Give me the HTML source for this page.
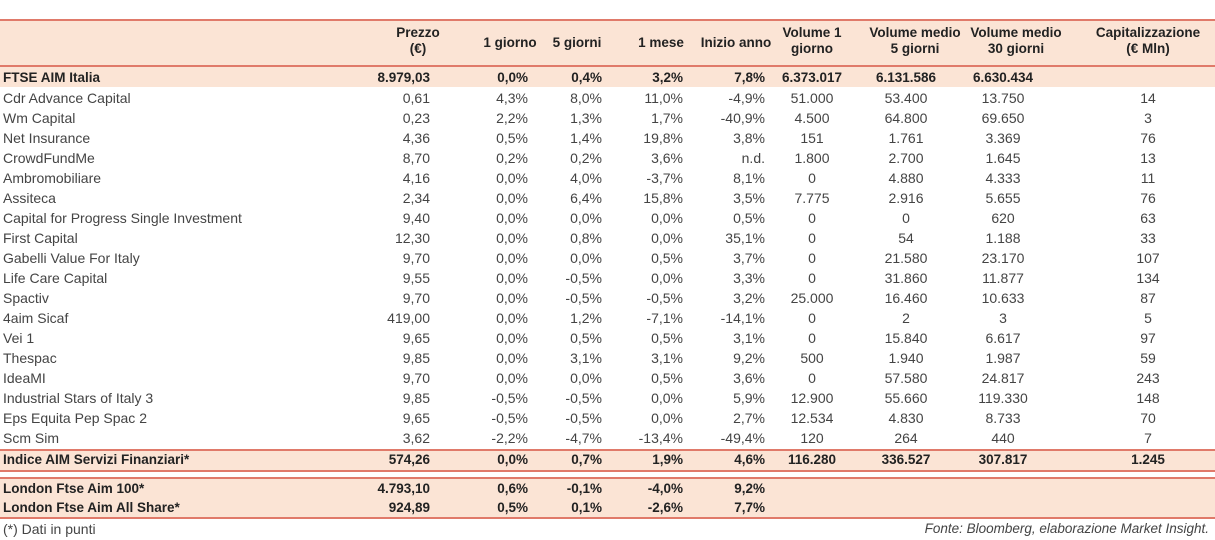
<!DOCTYPE html>
<html><head><meta charset="utf-8">
<style>
html,body{margin:0;padding:0;background:#fff;}
#wrap{position:relative;width:1215px;height:540px;overflow:hidden;font-family:"Liberation Sans",sans-serif;font-size:14px;color:#444;}
.c{position:absolute;white-space:nowrap;line-height:16px;}
.b{font-weight:bold;color:#222;}
.h{font-size:13.5px;}
.bg{position:absolute;left:0;width:1215px;background:#fbe4d5;}
.ln{position:absolute;left:0;width:1215px;background:#e07a6a;}
</style></head>
<body>
<div id="wrap">
  <div class="ln" style="top:19px;height:2px"></div>
  <div class="bg" style="top:21px;height:44px"></div>
  <div class="ln" style="top:65px;height:2px"></div>
  <div class="bg" style="top:67px;height:20px"></div>
  <div class="ln" style="top:449px;height:2px"></div>
  <div class="bg" style="top:451px;height:19px"></div>
  <div class="ln" style="top:470px;height:2px"></div>
  <div class="ln" style="top:477px;height:2px"></div>
  <div class="bg" style="top:479px;height:38px"></div>
  <div class="ln" style="top:517px;height:2px"></div>
  <div class="c" style="left:3px;top:521px">(*) Dati in punti</div>
  <div class="c" style="right:6px;top:521px;font-style:italic;font-size:13.5px">Fonte: Bloomberg, elaborazione Market Insight.</div>
</div>
<script>
const headers=[["Prezzo","(€)"],["1 giorno"],["5 giorni"],["1 mese"],["Inizio anno"],["Volume 1","giorno"],["Volume medio","5 giorni"],["Volume medio","30 giorni"],["Capitalizzazione","(€ Mln)"]];
const headerCenters=[418,510,577,661,736,812,915,1016,1148];
const colPos=[["r",430],["r",528],["r",602],["r",683],["r",765],["c",812],["c",906],["c",1003],["c",1148]];
const rows=[
["FTSE AIM Italia","8.979,03","0,0%","0,4%","3,2%","7,8%","6.373.017","6.131.586","6.630.434",""],
["Cdr Advance Capital","0,61","4,3%","8,0%","11,0%","-4,9%","51.000","53.400","13.750","14"],
["Wm Capital","0,23","2,2%","1,3%","1,7%","-40,9%","4.500","64.800","69.650","3"],
["Net Insurance","4,36","0,5%","1,4%","19,8%","3,8%","151","1.761","3.369","76"],
["CrowdFundMe","8,70","0,2%","0,2%","3,6%","n.d.","1.800","2.700","1.645","13"],
["Ambromobiliare","4,16","0,0%","4,0%","-3,7%","8,1%","0","4.880","4.333","11"],
["Assiteca","2,34","0,0%","6,4%","15,8%","3,5%","7.775","2.916","5.655","76"],
["Capital for Progress Single Investment","9,40","0,0%","0,0%","0,0%","0,5%","0","0","620","63"],
["First Capital","12,30","0,0%","0,8%","0,0%","35,1%","0","54","1.188","33"],
["Gabelli Value For Italy","9,70","0,0%","0,0%","0,5%","3,7%","0","21.580","23.170","107"],
["Life Care Capital","9,55","0,0%","-0,5%","0,0%","3,3%","0","31.860","11.877","134"],
["Spactiv","9,70","0,0%","-0,5%","-0,5%","3,2%","25.000","16.460","10.633","87"],
["4aim Sicaf","419,00","0,0%","1,2%","-7,1%","-14,1%","0","2","3","5"],
["Vei 1","9,65","0,0%","0,5%","0,5%","3,1%","0","15.840","6.617","97"],
["Thespac","9,85","0,0%","3,1%","3,1%","9,2%","500","1.940","1.987","59"],
["IdeaMI","9,70","0,0%","0,0%","0,5%","3,6%","0","57.580","24.817","243"],
["Industrial Stars of Italy 3","9,85","-0,5%","-0,5%","0,0%","5,9%","12.900","55.660","119.330","148"],
["Eps Equita Pep Spac 2","9,65","-0,5%","-0,5%","0,0%","2,7%","12.534","4.830","8.733","70"],
["Scm Sim","3,62","-2,2%","-4,7%","-13,4%","-49,4%","120","264","440","7"],
["Indice AIM Servizi Finanziari*","574,26","0,0%","0,7%","1,9%","4,6%","116.280","336.527","307.817","1.245"],
["London Ftse Aim 100*","4.793,10","0,6%","-0,1%","-4,0%","9,2%","","","",""],
["London Ftse Aim All Share*","924,89","0,5%","0,1%","-2,6%","7,7%","","","",""]
];
const rowTops=[70,90,110,130,150,170,190,210,230,250,270,290,310,330,350,370,390,410,430,452,481,500];
const boldRows=[0,19,20,21];
const wrap=document.getElementById('wrap');
headers.forEach((h,i)=>{
  const d=document.createElement('div');
  d.className='c b h';
  
  
  d.style.textAlign='center';d.style.width='160px';
  d.style.left=(headerCenters[i]-80)+'px';
  d.style.top=(h.length>1?25:35)+'px';
  d.innerHTML=h.join('<br>');
  wrap.appendChild(d);
});
rows.forEach((r,ri)=>{
  const bold=boldRows.includes(ri);
  const n=document.createElement('div');
  n.className='c'+(bold?' b h':'');
  
  
  n.style.left='3px';n.style.top=rowTops[ri]+'px';
  n.textContent=r[0];
  wrap.appendChild(n);
  for(let k=1;k<r.length;k++){
    if(!r[k])continue;
    const d=document.createElement('div');
    d.className='c'+(bold?' b h':'');
    
    
    const [m,x]=colPos[k-1];
    d.style.top=rowTops[ri]+'px';
    if(m==='r'){d.style.right=(1215-x)+'px';}
    else{d.style.left=(x-60)+'px';d.style.width='120px';d.style.textAlign='center';}
    d.textContent=r[k];
    wrap.appendChild(d);
  }
});
</script>
</body></html>
